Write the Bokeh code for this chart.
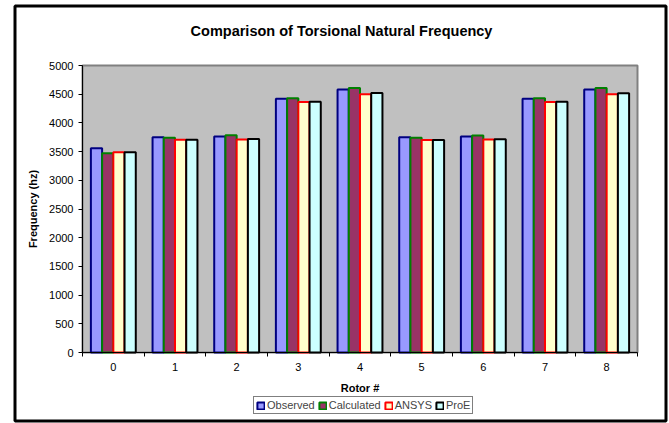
from bokeh.plotting import figure
from bokeh.models import (ColumnDataSource, FixedTicker, Legend, LegendItem, BoxAnnotation,
                          Label, LinearAxis, Range1d)
from bokeh.embed import file_html
from bokeh.resources import INLINE

rotors = [0, 1, 2, 3, 4, 5, 6, 7, 8]
observed = [3560, 3750, 3765, 4420, 4580, 3750, 3765, 4420, 4580]
calculated = [3470, 3740, 3785, 4430, 4610, 3740, 3780, 4430, 4610]
ansys = [3490, 3705, 3710, 4365, 4500, 3700, 3710, 4365, 4500]
proe = [3490, 3705, 3720, 4370, 4520, 3700, 3715, 4370, 4515]

series_names = ["Observed", "Calculated", "ANSYS", "ProE"]
fills = ["#9999FF", "#993366", "#FFFFCC", "#CCFFFF"]
outlines = ["#000080", "#008000", "#FF0000", "#000000"]
y_ticks = list(range(0, 5001, 500))
title_text = "Comparison of Torsional Natural Frequency"

FONT = "Liberation Sans"
W, H = 669, 423
# plot area in canvas pixels
PL, PR, PT, PB = 82, 637, 65, 352
XMIN, XMAX = -0.5, len(rotors) - 0.5
YMIN, YMAX = 0, 5000
ux = (XMAX - XMIN) / (PR - PL)
uy = (YMAX - YMIN) / (PB - PT)


def px(x):
    return XMIN + (x - PL) * ux


def py(y):
    return YMIN + (PB - y) * uy


p = figure(width=W, height=H, output_backend="svg", toolbar_location=None,
           x_range=Range1d(px(0), px(W)), y_range=Range1d(py(H), py(0)),
           x_axis_location=None, y_axis_location=None)
p.min_border_left = 0
p.min_border_right = 0
p.min_border_top = 0
p.min_border_bottom = 0
p.background_fill_color = "white"
p.border_fill_color = "white"
p.outline_line_color = None
p.xgrid.grid_line_color = None
p.ygrid.grid_line_color = None

# plot area background
p.add_layout(BoxAnnotation(left=XMIN, right=XMAX, bottom=YMIN, top=YMAX,
                           fill_color="#C0C0C0", fill_alpha=1, line_color="#808080",
                           line_alpha=1, line_width=2, level="underlay", editable=False))

# gridlines from tick values
grid_src = ColumnDataSource(dict(y=y_ticks[1:]))
p.segment(x0=XMIN, x1=XMAX, y0="y", y1="y", source=grid_src, line_color="black", line_width=1,
          level="underlay")

bw = 0.182
offsets = [-1.5 * bw, -0.5 * bw, 0.5 * bw, 1.5 * bw]
series = [observed, calculated, ansys, proe]
renderers = []
for name, vals, off, fc, lc in zip(series_names, series, offsets, fills, outlines):
    src = ColumnDataSource(dict(x=[r + off for r in rotors], top=vals))
    r = p.vbar(x="x", top="top", width=bw, bottom=0, source=src,
               fill_color=fc, line_color=lc, line_width=2)
    renderers.append(r)

xaxis = LinearAxis(fixed_location=YMIN, bounds=(XMIN, XMAX),
                   ticker=FixedTicker(ticks=rotors, minor_ticks=[i - 0.5 for i in range(len(rotors) + 1)]))
xaxis.axis_label = "Rotor #"
xaxis.major_tick_line_color = None
xaxis.major_tick_out = 4
xaxis.major_tick_in = 0
xaxis.minor_tick_out = 4
xaxis.minor_tick_in = 0
xaxis.minor_tick_line_color = "black"
xaxis.major_label_standoff = 6
xaxis.axis_label_standoff = 8

yaxis = LinearAxis(fixed_location=XMIN, bounds=(YMIN, YMAX), ticker=FixedTicker(ticks=y_ticks))
yaxis.axis_label = "Frequency (hz)"
yaxis.major_tick_out = 4
yaxis.major_tick_in = 0
yaxis.minor_tick_line_color = None
yaxis.major_label_standoff = 5
yaxis.axis_label_standoff = 7

for ax in (xaxis, yaxis):
    ax.axis_line_color = "black"
    ax.axis_line_width = 1
    ax.major_tick_line_width = 1
    ax.major_label_text_font = FONT
    ax.major_label_text_font_size = "11px"
    ax.major_label_text_color = "black"
    ax.axis_label_text_font = FONT
    ax.axis_label_text_font_size = "11px"
    ax.axis_label_text_font_style = "bold"
    ax.axis_label_text_color = "black"

p.add_layout(xaxis, "below")
p.add_layout(yaxis, "left")

# outer chart border
p.add_layout(BoxAnnotation(left=px(14.5), right=px(665.5), top=py(5.5), bottom=py(420.5),
                           fill_color=None, fill_alpha=0, line_color="black", line_alpha=1,
                           line_width=3, level="overlay", editable=False))

p.add_layout(Label(x=px(341), y=py(30), text=title_text,
                   text_font=FONT, text_font_size="14.5px", text_font_style="bold",
                   text_align="center", text_baseline="middle", text_color="black"))

legend = Legend(items=[LegendItem(label=n, renderers=[r]) for n, r in zip(series_names, renderers)],
                orientation="horizontal", location=(253, 9))
legend.label_text_font = FONT
legend.label_text_font_size = "11px"
legend.label_standoff = 2
legend.glyph_width = 9
legend.glyph_height = 9
legend.spacing = 3
legend.padding = 2
legend.margin = 0
legend.border_line_color = "black"
legend.border_line_width = 1
legend.background_fill_color = "white"
legend.label_height = 10
p.add_layout(legend)

open("out.html", "w").write(file_html(p, INLINE))
